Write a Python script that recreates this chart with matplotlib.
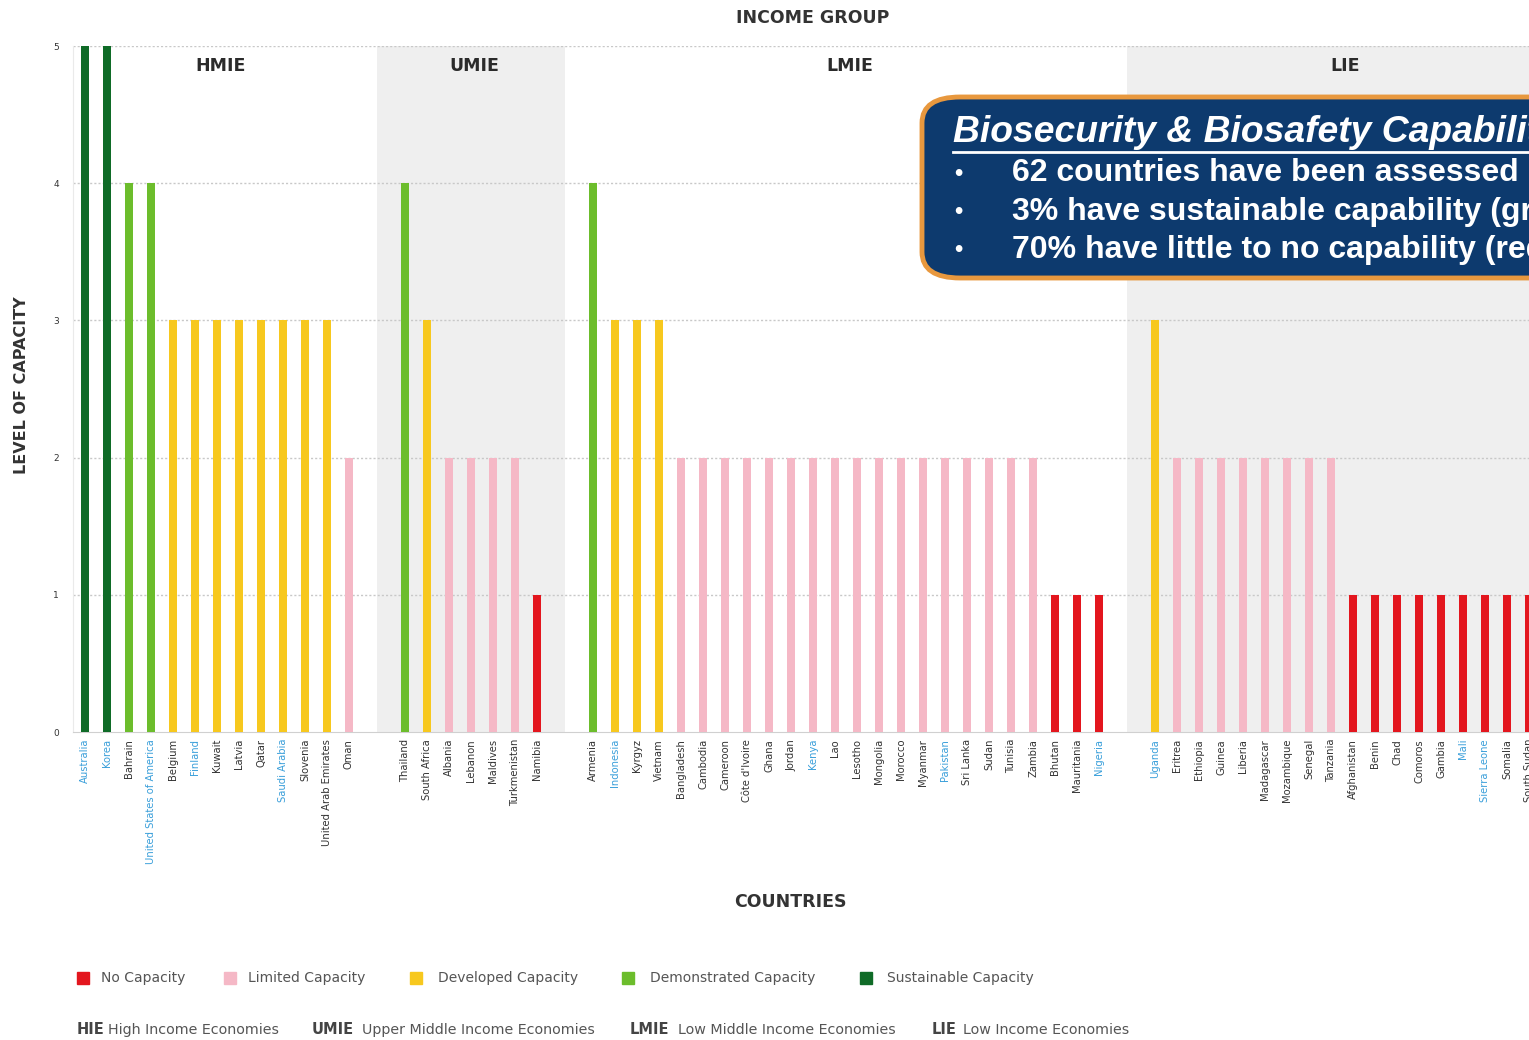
import matplotlib
matplotlib.use("Agg")
import matplotlib.pyplot as plt
from matplotlib.patches import FancyBboxPatch, Rectangle
from matplotlib.lines import Line2D

# ---------------- data ----------------
groups = ["HMIE", "UMIE", "LMIE", "LIE"]
hmie_countries = ["Australia", "Korea", "Bahrain", "United States of America", "Belgium", "Finland",
                  "Kuwait", "Latvia", "Qatar", "Saudi Arabia", "Slovenia", "United Arab Emirates", "Oman"]
hmie_values = [5, 5, 4, 4, 3, 3, 3, 3, 3, 3, 3, 3, 2]
umie_countries = ["Thailand", "South Africa", "Albania", "Lebanon", "Maldives", "Turkmenistan", "Namibia"]
umie_values = [4, 3, 2, 2, 2, 2, 1]
lmie_countries = ["Armenia", "Indonesia", "Kyrgyz", "Vietnam", "Bangladesh", "Cambodia", "Cameroon",
                  "Côte d'Ivoire", "Ghana", "Jordan", "Kenya", "Lao", "Lesotho", "Mongolia", "Morocco",
                  "Myanmar", "Pakistan", "Sri Lanka", "Sudan", "Tunisia", "Zambia", "Bhutan",
                  "Mauritania", "Nigeria"]
lmie_values = [4, 3, 3, 3, 2, 2, 2, 2, 2, 2, 2, 2, 2, 2, 2, 2, 2, 2, 2, 2, 2, 1, 1, 1]
lie_countries = ["Uganda", "Eritrea", "Ethiopia", "Guinea", "Liberia", "Madagascar", "Mozambique",
                 "Senegal", "Tanzania", "Afghanistan", "Benin", "Chad", "Comoros", "Gambia", "Mali",
                 "Sierra Leone", "Somalia", "South Sudan"]
lie_values = [3, 2, 2, 2, 2, 2, 2, 2, 2, 1, 1, 1, 1, 1, 1, 1, 1, 1]
blue_labels = ["Australia", "Korea", "United States of America", "Finland", "Saudi Arabia",
               "Indonesia", "Kenya", "Pakistan", "Nigeria", "Uganda", "Mali", "Sierra Leone"]

level_names = ["No Capacity", "Limited Capacity", "Developed Capacity",
               "Demonstrated Capacity", "Sustainable Capacity"]
level_colors = ["#E3161E", "#F5B8C6", "#F7C81E", "#6CBD2C", "#0F6B27"]
yticks = [0, 1, 2, 3, 4, 5]
income_abbr = ["HIE", "UMIE", "LMIE", "LIE"]
income_full = ["High Income Economies", "Upper Middle Income Economies",
               "Low Middle Income Economies", "Low Income Economies"]
box_title = "Biosecurity & Biosafety Capabilities"
box_lines = ["62 countries have been assessed",
             "3% have sustainable capability (green)",
             "70% have little to no capability (red and pink)"]

group_countries = [hmie_countries, umie_countries, lmie_countries, lie_countries]
group_values = [hmie_values, umie_values, lmie_values, lie_values]
shaded = [False, True, False, True]

# ---------------- figure ----------------
W, H = 1529, 1040
fig = plt.figure(figsize=(W / 100, H / 100), dpi=100)
fig.patch.set_facecolor("white")

GAP = 1.55
px_per_unit = 22.0
x0_px = 85.0
xmin = -0.55
xmax = 67.2
left_px = x0_px + xmin * px_per_unit
right_px = x0_px + xmax * px_per_unit
ax_bottom_px, ax_top_px = 732, 46
ax = fig.add_axes([left_px / W, (H - ax_bottom_px) / H,
                   (right_px - left_px) / W, (ax_bottom_px - ax_top_px) / H])

positions, labels, values, colors = [], [], [], []
spans = []
cur = 0.0
for gi, (cs, vs) in enumerate(zip(group_countries, group_values)):
    start = cur
    for c, v in zip(cs, vs):
        positions.append(cur)
        labels.append(c)
        values.append(v)
        colors.append(level_colors[v - 1])
        cur += 1
    end = cur - 1
    spans.append((start, end))
    cur += GAP

# shaded group backgrounds
for gi, (s, e) in enumerate(spans):
    lo = s - (1 + GAP) / 2
    hi = e + (1 + GAP) / 2
    if shaded[gi]:
        ax.axvspan(lo, hi, color="#EFEFEF", zorder=0, lw=0)
    ax.text((s + e) / 2 + 0.15, 4.855, groups[gi], ha="center", va="center",
            fontsize=12.5, fontweight="bold", color="#2b2b2b")

ax.bar(positions, values, width=0.36, color=colors, zorder=3)

ax.set_xlim(xmin, xmax)
ax.set_ylim(0, 5)
ax.set_yticks(yticks)
ax.set_yticklabels([str(t) for t in yticks], fontsize=6.5, color="#333333")
for t in yticks[1:]:
    ax.axhline(t, color="#C8C8C8", lw=1.0, ls=(0, (1.5, 1.5)), zorder=1)

ax.set_xticks(positions)
ax.set_xticklabels(labels, rotation=90, fontsize=7.2, va="top")
for tl in ax.get_xticklabels():
    tl.set_color("#3A9FDA" if tl.get_text() in blue_labels else "#333333")
ax.tick_params(axis="both", length=0, pad=5)
ax.tick_params(axis="y", pad=10)

for sp in ["top", "right"]:
    ax.spines[sp].set_visible(False)
ax.spines["bottom"].set_color("#D0D0D0")
ax.spines["left"].set_color("#EAEAEA")

# axis titles
fig.text(813 / W, 1 - 18 / H, "INCOME GROUP", ha="center", va="center",
         fontsize=12.5, fontweight="bold", color="#333333")
fig.text(790 / W, 1 - 902 / H, "COUNTRIES", ha="center", va="center",
         fontsize=12.5, fontweight="bold", color="#333333")
fig.text(22 / W, 1 - 385 / H, "LEVEL OF CAPACITY", ha="center", va="center",
         rotation=90, fontsize=11.5, fontweight="bold", color="#333333")

# legend row 1
sq_x = [77, 224, 410, 622, 860]
tx_x = [101, 248, 438, 650, 887]
for i in range(5):
    fig.patches.append(Rectangle((sq_x[i] / W, 1 - 984 / H), 12 / W, 12 / H,
                                 transform=fig.transFigure, color=level_colors[i]))
    fig.text(tx_x[i] / W, 1 - 978 / H, level_names[i], ha="left", va="center",
             fontsize=10, color="#555555")

# legend row 2
ab_x = [77, 312, 630, 932]
fl_x = [108, 362, 678, 963]
for i in range(4):
    fig.text(ab_x[i] / W, 1 - 1030 / H, income_abbr[i], ha="left", va="center",
             fontsize=10.5, fontweight="bold", color="#444444")
    fig.text(fl_x[i] / W, 1 - 1030 / H, income_full[i], ha="left", va="center",
             fontsize=10.3, color="#555555")

# callout box
bx0, by_top, by_bot = 922, 97, 278
box = FancyBboxPatch((bx0 / W, 1 - by_bot / H), (700) / W, (by_bot - by_top) / H,
                     boxstyle="round,pad=0,rounding_size=0.025", transform=fig.transFigure,
                     facecolor="#0D3A6E", edgecolor="#E8983E", lw=3.5, zorder=10)
fig.patches.append(box)
fig.text(953 / W, 1 - 132 / H, box_title, ha="left", va="center", fontsize=26.8,
         fontweight="bold", fontstyle="italic", family="Liberation Sans",
         color="white", zorder=11)
fig.lines.append(Line2D([953 / W, 1.05], [1 - 152 / H, 1 - 152 / H], transform=fig.transFigure,
                        color="white", lw=2, zorder=11))
line_y = [173, 212, 250]
for yy, s in zip(line_y, box_lines):
    fig.text(958 / W, 1 - yy / H, "•", ha="center", va="center", fontsize=17,
             fontweight="bold", family="Liberation Sans", color="white", zorder=11)
    fig.text(1012 / W, 1 - yy / H, s, ha="left", va="center", fontsize=23,
             fontweight="bold", family="Liberation Sans", color="white", zorder=11)

fig.savefig("out.png", dpi=100)
